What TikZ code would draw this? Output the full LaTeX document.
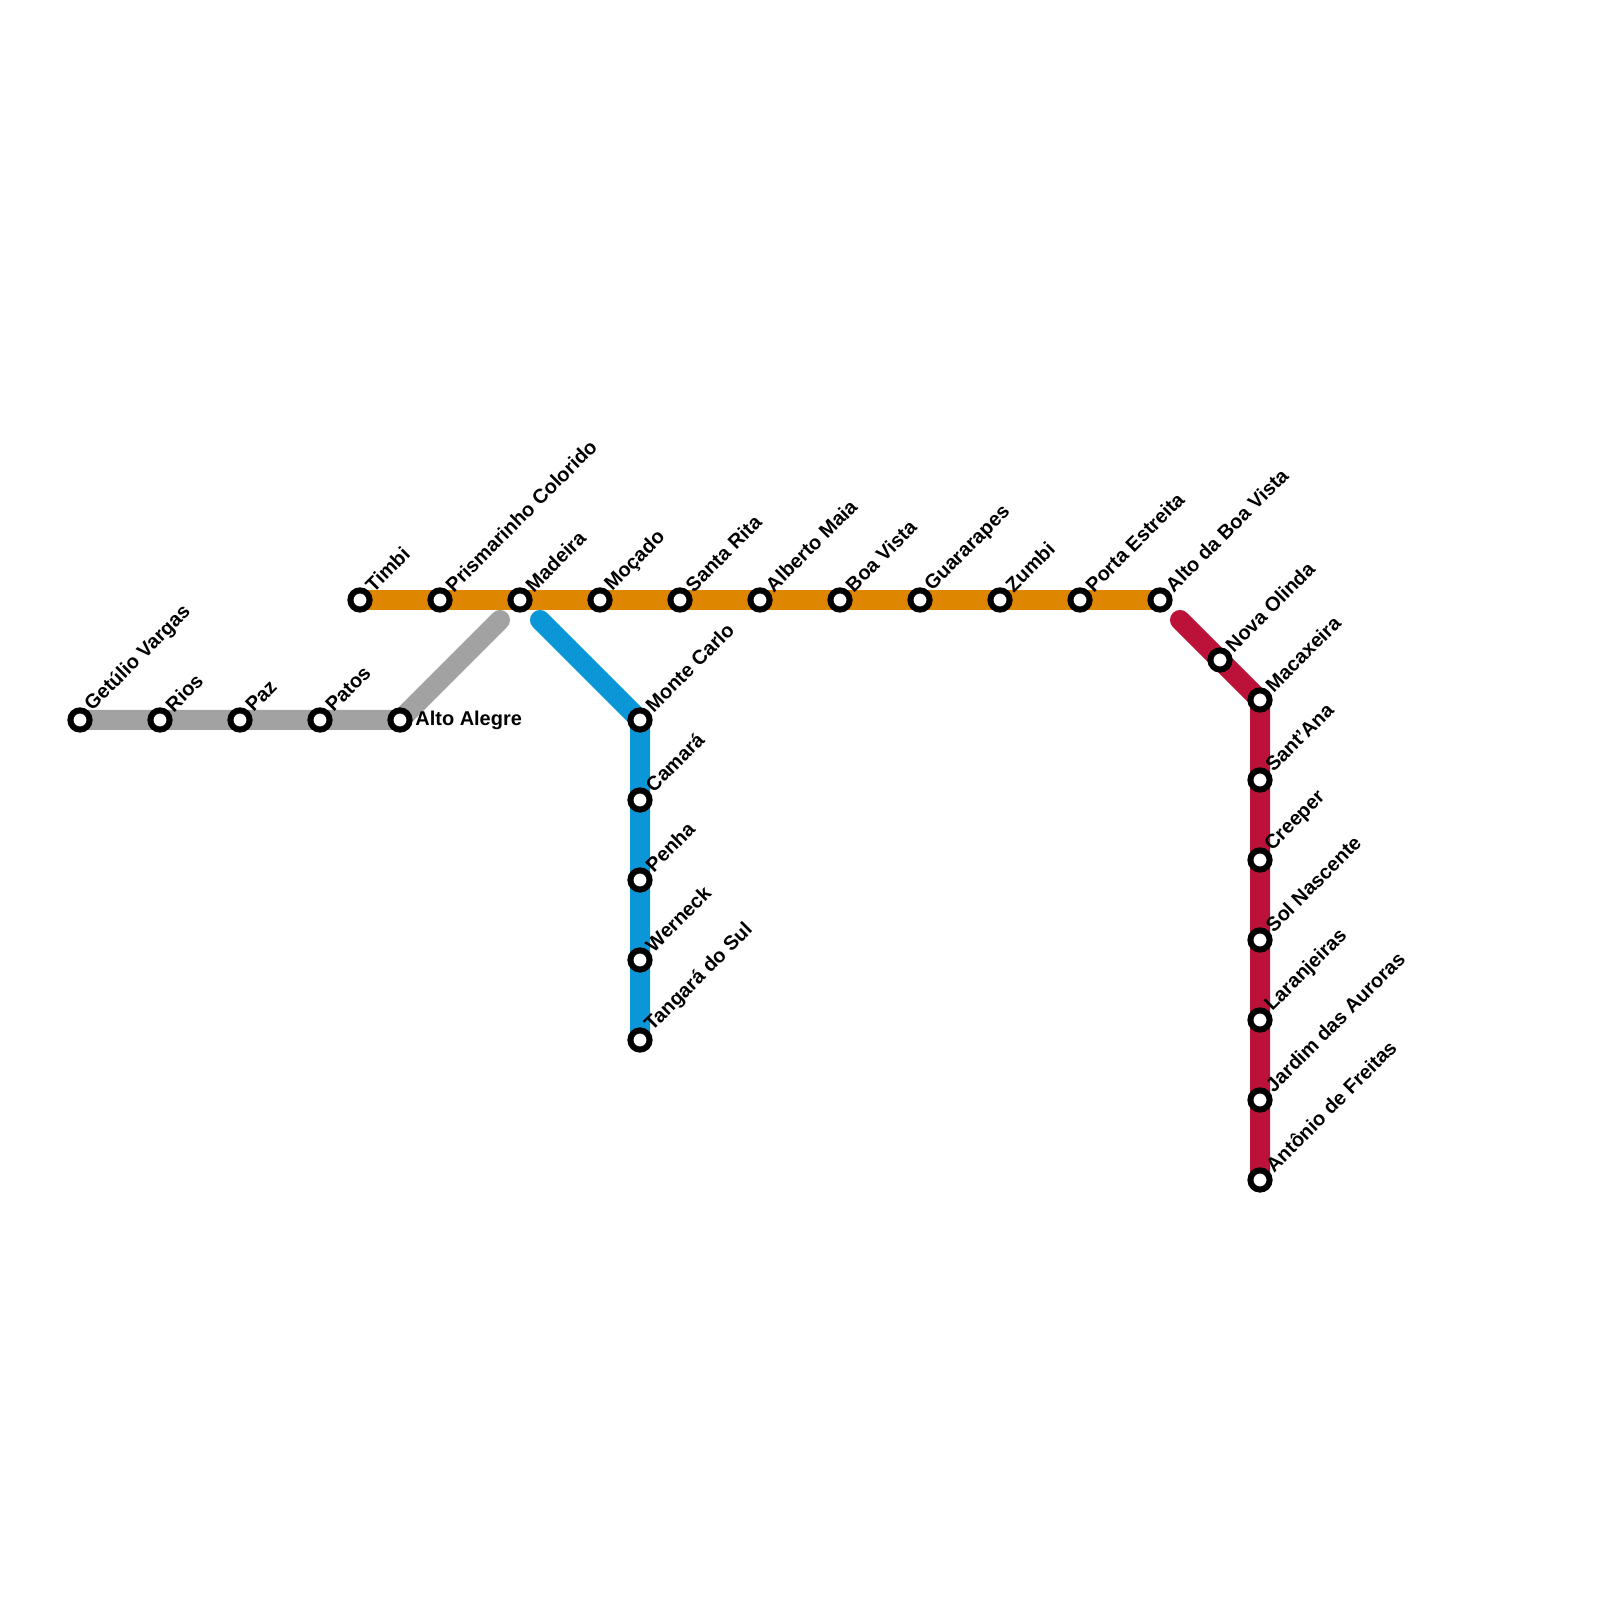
\documentclass[tikz,border=0pt]{standalone}
\usepackage{fontspec}
\setmainfont{Liberation Sans}
\usepackage{xcolor}
\usepackage{tikz}
\usetikzlibrary{positioning,backgrounds}
\definecolor{LineGray}{HTML}{A2A2A2}
\definecolor{LineAmber}{HTML}{DF8600}
\definecolor{LineBlue}{HTML}{0A96D7}
\definecolor{LineRed}{HTML}{BC1239}

\begin{document}
\begin{tikzpicture}[node distance=2cm,on grid]
\tikzstyle{stn}=[circle,draw=black,line width=0.15cm,fill=white,
                 minimum size=0.48cm,inner sep=0pt]
\tikzstyle{lab}=[rotate=45,anchor=west,inner sep=0pt,xshift=1.3pt,yshift=1.6pt,
                 font=\bfseries\fontsize{14.2}{16}\selectfont]
\tikzstyle{labflat}=[anchor=west,inner sep=0pt,xshift=1.8pt,yshift=-0.4pt,
                 font=\bfseries\fontsize{14.2}{16}\selectfont]
\tikzstyle{track}=[line width=0.5cm,line cap=round,line join=round]
\useasboundingbox (0,0) rectangle (40,40);
\node[stn,label={[lab]45:Getúlio Vargas}] (getulio) at (2,22) {};
\node[stn,right=of getulio,label={[lab]45:Rios}] (rios) {};
\node[stn,right=of rios,label={[lab]45:Paz}] (paz) {};
\node[stn,right=of paz,label={[lab]45:Patos}] (patos) {};
\node[stn,right=of patos,label={[labflat]0:Alto Alegre}] (alegre) {};
\node[stn,label={[lab]45:Timbi}] (timbi) at (9,25) {};
\node[stn,right=of timbi,label={[lab]45:Prismarinho Colorido}] (prisma) {};
\node[stn,right=of prisma,label={[lab]45:Madeira}] (madeira) {};
\node[stn,right=of madeira,label={[lab]45:Moçado}] (mocado) {};
\node[stn,right=of mocado,label={[lab]45:Santa Rita}] (rita) {};
\node[stn,right=of rita,label={[lab]45:Alberto Maia}] (maia) {};
\node[stn,right=of maia,label={[lab]45:Boa Vista}] (boavista) {};
\node[stn,right=of boavista,label={[lab]45:Guararapes}] (guara) {};
\node[stn,right=of guara,label={[lab]45:Zumbi}] (zumbi) {};
\node[stn,right=of zumbi,label={[lab]45:Porta Estreita}] (porta) {};
\node[stn,right=of porta,label={[lab]45:Alto da Boa Vista}] (altoboa) {};
\node[stn,label={[lab]45:Monte Carlo}] (monte) at (16,22) {};
\node[stn,below=of monte,label={[lab]45:Camará}] (camara) {};
\node[stn,below=of camara,label={[lab]45:Penha}] (penha) {};
\node[stn,below=of penha,label={[lab]45:Werneck}] (werneck) {};
\node[stn,below=of werneck,label={[lab]45:Tangará do Sul}] (tangara) {};
\node[stn,label={[lab]45:Nova Olinda}] (olinda) at (30.5,23.5) {};
\node[stn,label={[lab]45:Macaxeira}] (macaxeira) at (31.5,22.5) {};
\node[stn,below=of macaxeira,label={[lab]45:Sant'Ana}] (santana) {};
\node[stn,below=of santana,label={[lab]45:Creeper}] (creeper) {};
\node[stn,below=of creeper,label={[lab]45:Sol Nascente}] (sol) {};
\node[stn,below=of sol,label={[lab]45:Laranjeiras}] (laranja) {};
\node[stn,below=of laranja,label={[lab]45:Jardim das Auroras}] (jardim) {};
\node[stn,below=of jardim,label={[lab]45:Antônio de Freitas}] (antonio) {};
\coordinate (grayend) at (12.5,24.5);
\coordinate (bluestart) at (13.5,24.5);
\coordinate (redstart) at (29.5,24.5);
\begin{pgfonlayer}{background}
\draw[track,LineGray] (getulio.center) -- (alegre.center) -- (grayend);
\draw[track,LineAmber] (timbi.center) -- (altoboa.center);
\draw[track,LineBlue] (bluestart) -- (monte.center) -- (tangara.center);
\draw[track,LineRed] (redstart) -- (olinda.center) -- (macaxeira.center) -- (antonio.center);
\end{pgfonlayer}
\end{tikzpicture}
\end{document}
